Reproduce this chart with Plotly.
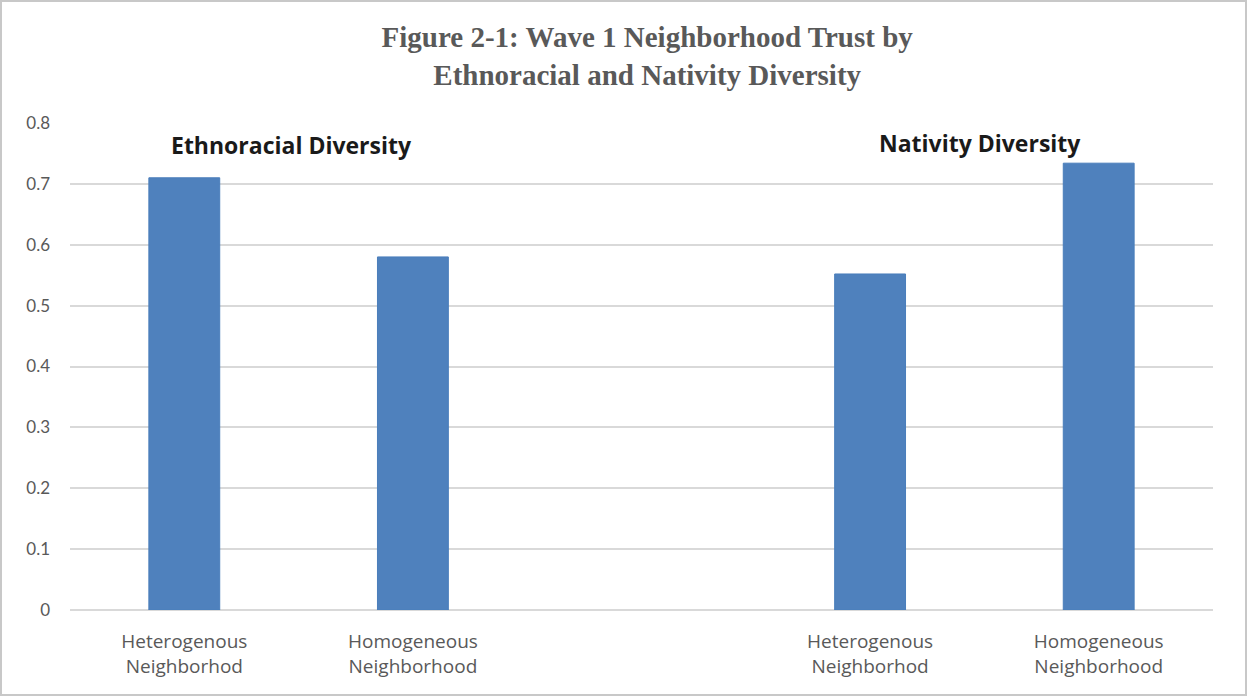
import plotly.graph_objects as go

categories = ["Heterogenous<br>Neighborhod", "Homogeneous<br>Neighborhood", "",
              "Heterogenous<br>Neighborhod", "Homogeneous<br>Neighborhood"]
values = [0.71, 0.58, None, 0.552, 0.734]
group_labels = ["Ethnoracial Diversity", "Nativity Diversity"]
y_ticks = [0, 0.1, 0.2, 0.3, 0.4, 0.5, 0.6, 0.7, 0.8]
y_ticktext = ["0", "0.1", "0.2", "0.3", "0.4", "0.5", "0.6", "0.7", "0.8"]

W, H = 1247, 696
L, R, T, B = 70, 34, 123, 86

positions = list(range(len(categories)))

fig = go.Figure()
fig.add_trace(go.Bar(
    x=positions, y=values,
    marker=dict(color="#4f81bd", line=dict(color="#4a7ebb", width=1)),
    width=0.31,
    hoverinfo="y",
))

fig.update_layout(
    width=W, height=H,
    margin=dict(l=L, r=R, t=T, b=B),
    paper_bgcolor="white", plot_bgcolor="white",
    showlegend=False,
    title=dict(
        text="Figure 2-1: Wave 1 Neighborhood Trust by<br>Ethnoracial and Nativity Diversity",
        x=0.519, xanchor="center", y=0.932, yanchor="top",
        font=dict(family="Liberation Serif", size=29, color="#595959", weight="bold"),
    ),
    xaxis=dict(
        range=[-0.5, len(categories) - 0.5],
        tickmode="array", tickvals=positions, ticktext=categories,
        showgrid=False, zeroline=False, showline=False,
        tickfont=dict(family="Open Sans", size=19, color="#595959"),
        ticks="", ticklabelstandoff=18,
    ),
    yaxis=dict(
        range=[0, 0.8],
        tickmode="array", tickvals=y_ticks, ticktext=y_ticktext,
        showgrid=True, gridcolor="#d9d9d9", gridwidth=1.5,
        zeroline=True, zerolinecolor="#d9d9d9", zerolinewidth=1.5,
        showline=False, ticks="",
        tickfont=dict(family="Lato", size=17, color="#595959"),
        ticklabelstandoff=19,
    ),
)

fig.add_annotation(x=0.47, y=0.8, xref="x", yref="y", text=group_labels[0],
                   showarrow=False, yanchor="top", yshift=-4,
                   font=dict(family="Open Sans", size=23, color="#1a1a1a", weight="bold"))
fig.add_annotation(x=3.48, y=0.8, xref="x", yref="y", text=group_labels[1],
                   showarrow=False, yanchor="top", yshift=-2,
                   font=dict(family="Open Sans", size=23, color="#1a1a1a", weight="bold"))

pw, ph = W - L - R, H - T - B
fig.add_shape(type="rect", xref="paper", yref="paper",
              x0=-(L - 1) / pw, x1=1 + (R - 1) / pw,
              y0=-(B - 1) / ph, y1=1 + (T - 1) / ph,
              line=dict(color="#c8c8c8", width=2), layer="below")

fig.write_html("out.html")
